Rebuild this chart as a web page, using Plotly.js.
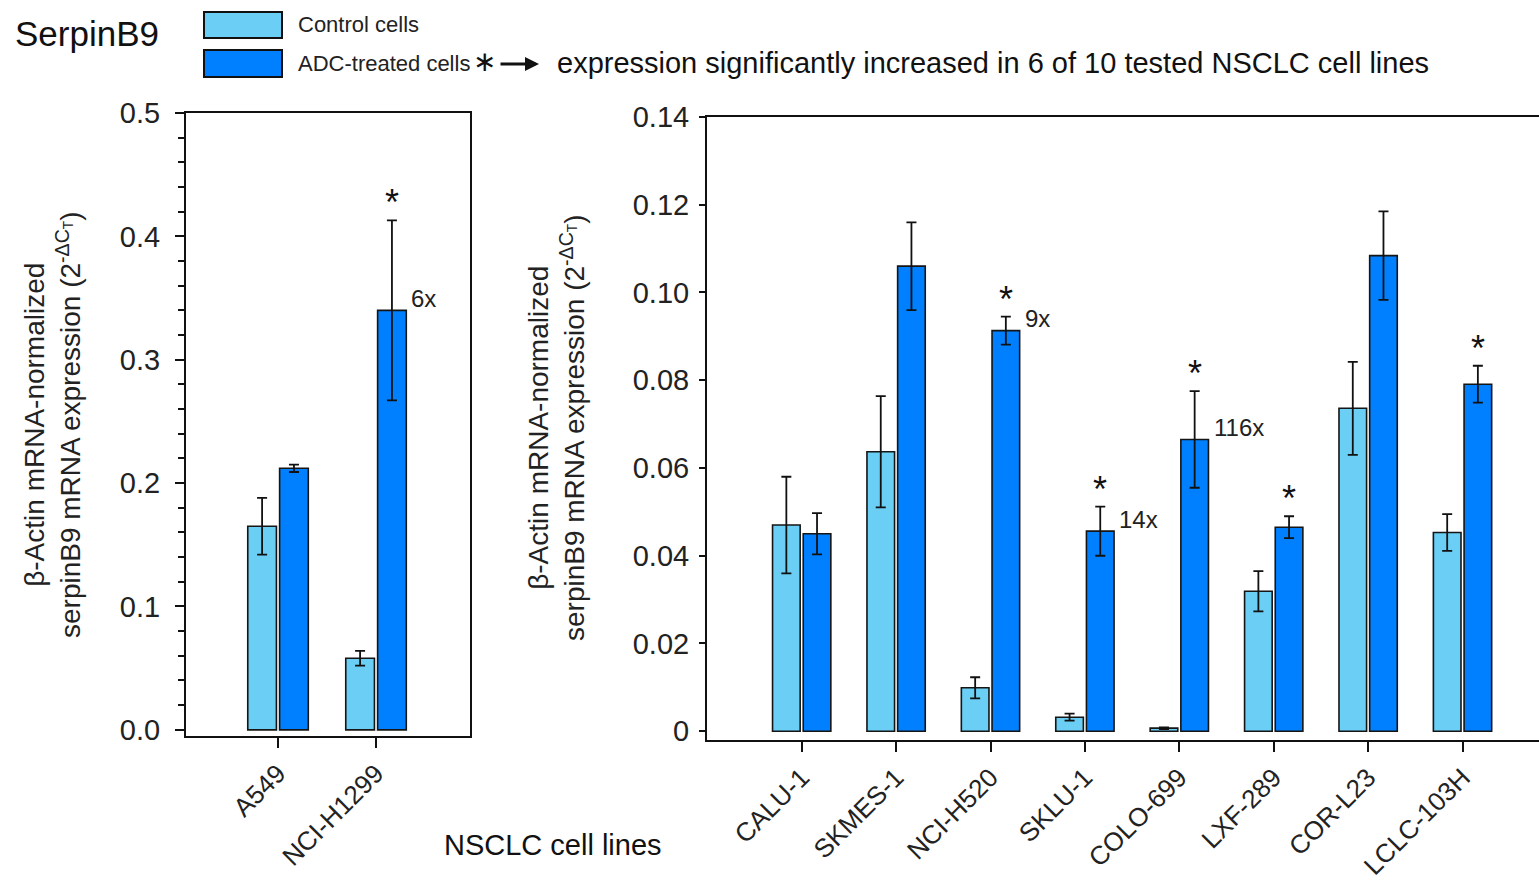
<!DOCTYPE html>
<html><head><meta charset="utf-8">
<script src="https://cdn.plot.ly/plotly-3.0.1.min.js"></script>
<style>html,body{margin:0;padding:0;background:#fff;}#chart{width:1539px;height:883px;}</style>
</head><body><div id="chart"></div>
<script>
// ---- data ----
const leftCats = ['A549', 'NCI-H1299'];
const leftControl = [0.165, 0.058];
const leftControlErr = [0.023, 0.006];
const leftADC = [0.212, 0.340];
const leftADCErr = [0.003, 0.073];
const leftSig = [false, true];
const leftFold = ['', '6x'];

const rightCats = ['CALU-1', 'SKMES-1', 'NCI-H520', 'SKLU-1', 'COLO-699', 'LXF-289', 'COR-L23', 'LCLC-103H'];
const rightControl = [0.047, 0.0637, 0.0099, 0.0032, 0.0007, 0.0319, 0.0736, 0.0453];
const rightControlErr = [0.011, 0.0127, 0.0024, 0.0008, 0.0002, 0.0046, 0.0106, 0.0042];
const rightADC = [0.045, 0.106, 0.0913, 0.0456, 0.0665, 0.0465, 0.1084, 0.0791];
const rightADCErr = [0.0047, 0.010, 0.0032, 0.0056, 0.011, 0.0025, 0.0101, 0.0042];
const rightSig = [false, false, true, true, true, true, false, true];
const rightFold = ['', '', '9x', '14x', '116x', '', '', ''];

const leftTicks = [0, 0.1, 0.2, 0.3, 0.4, 0.5];
const leftTickText = ['0.0', '0.1', '0.2', '0.3', '0.4', '0.5'];
const rightTicks = [0, 0.02, 0.04, 0.06, 0.08, 0.10, 0.12, 0.14];
const rightTickText = ['0', '0.02', '0.04', '0.06', '0.08', '0.10', '0.12', '0.14'];

// ---- style ----
const FONT = 'Liberation Sans, Arial, Helvetica, sans-serif';
const LIGHT = '#6ACEF5';
const DARK = '#0080FF';
const barLine = {color: '#151515', width: 1.6};
const errStyle = {type: 'data', visible: true, color: '#111', thickness: 1.8, width: 5};

function barTrace(cats, vals, errs, color, name, xa, ya) {
  return {type: 'bar', x: cats, y: vals, name: name, xaxis: xa, yaxis: ya,
    marker: {color: color, line: barLine},
    error_y: Object.assign({array: errs}, errStyle),
    showlegend: false, hoverinfo: 'x+y'};
}

const data = [
  barTrace(leftCats, leftControl, leftControlErr, LIGHT, 'Control cells', 'x', 'y'),
  barTrace(leftCats, leftADC, leftADCErr, DARK, 'ADC-treated cells', 'x', 'y'),
  barTrace(rightCats, rightControl, rightControlErr, LIGHT, 'Control cells', 'x2', 'y2'),
  barTrace(rightCats, rightADC, rightADCErr, DARK, 'ADC-treated cells', 'x2', 'y2')
];

const annotations = [];
const ADC_CENTER = 0.1625, ADC_RIGHT = 0.31;
function addMarks(sig, fold, vals, errs, xr, yr) {
  for (let i = 0; i < vals.length; i++) {
    if (sig[i]) {
      annotations.push({xref: xr, yref: yr, x: i + ADC_CENTER, y: vals[i] + errs[i],
        text: '*', showarrow: false, yanchor: 'bottom', xanchor: 'center', yshift: -5,
        font: {family: FONT, size: 36, color: '#111'}});
    }
    if (fold[i]) {
      annotations.push({xref: xr, yref: yr, x: i + ADC_RIGHT, y: vals[i],
        text: fold[i], showarrow: false, yanchor: 'middle', xanchor: 'left', xshift: 3, yshift: 12,
        font: {family: FONT, size: 24, color: '#222'}});
    }
  }
}
addMarks(leftSig, leftFold, leftADC, leftADCErr, 'x', 'y');
addMarks(rightSig, rightFold, rightADC, rightADCErr, 'x2', 'y2');

const W = 1539, H = 883;
const px = v => v / W, py = v => 1 - v / H;

const yTitle = 'β-Actin mRNA-normalized<br>serpinB9 mRNA expression (2<sup>-ΔC<sub>T</sub></sup>)';
annotations.push(
  {xref: 'paper', yref: 'paper', x: px(13), y: py(33), xanchor: 'left', yanchor: 'middle',
   text: 'SerpinB9', showarrow: false, font: {family: FONT, size: 35, color: '#111'}},
  {xref: 'paper', yref: 'paper', x: px(296), y: py(25), xanchor: 'left', yanchor: 'middle',
   text: 'Control cells', showarrow: false, font: {family: FONT, size: 22, color: '#222'}},
  {xref: 'paper', yref: 'paper', x: px(296), y: py(63), xanchor: 'left', yanchor: 'middle',
   text: 'ADC-treated cells', showarrow: false, font: {family: FONT, size: 22, color: '#222'}},
  {xref: 'paper', yref: 'paper', x: px(484), y: py(61), xanchor: 'center', yanchor: 'middle',
   text: '∗', showarrow: false, font: {family: FONT, size: 28, color: '#111'}},
  {xref: 'paper', yref: 'paper', x: px(539), y: py(64), ax: -40, ay: 0, text: '',
   showarrow: true, arrowhead: 2, arrowsize: 1, arrowwidth: 2.8, arrowcolor: '#111'},
  {xref: 'paper', yref: 'paper', x: px(555), y: py(63), xanchor: 'left', yanchor: 'middle',
   text: 'expression significantly increased in 6 of 10 tested NSCLC cell lines', showarrow: false,
   font: {family: FONT, size: 29, color: '#111'}},
  {xref: 'paper', yref: 'paper', x: px(52), y: py(425), xanchor: 'center', yanchor: 'middle',
   text: yTitle, textangle: -90, showarrow: false, font: {family: FONT, size: 28, color: '#222'}},
  {xref: 'paper', yref: 'paper', x: px(556), y: py(428), xanchor: 'center', yanchor: 'middle',
   text: yTitle, textangle: -90, showarrow: false, font: {family: FONT, size: 28, color: '#222'}},
  {xref: 'paper', yref: 'paper', x: px(553), y: py(845), xanchor: 'center', yanchor: 'middle',
   text: 'NSCLC cell lines', showarrow: false, font: {family: FONT, size: 29, color: '#111'}}
);

const shapes = [
  {type: 'rect', xref: 'paper', yref: 'paper', x0: px(204), x1: px(282), y0: py(38), y1: py(12),
   fillcolor: LIGHT, line: {color: '#111', width: 2}},
  {type: 'rect', xref: 'paper', yref: 'paper', x0: px(204), x1: px(282), y0: py(77), y1: py(50),
   fillcolor: DARK, line: {color: '#111', width: 2}}
];

const axisCommon = {showline: true, linecolor: '#111', linewidth: 2, showgrid: false, zeroline: false,
  ticks: 'outside', tickcolor: '#111', tickwidth: 2, fixedrange: true};

const layout = {
  width: W, height: H,
  margin: {l: 0, r: 0, t: 0, b: 0},
  paper_bgcolor: '#fff', plot_bgcolor: '#fff',
  barmode: 'group', bargap: 0.35, bargroupgap: 0.1,
  showlegend: false,
  font: {family: FONT, color: '#222'},
  xaxis: Object.assign({}, axisCommon, {domain: [px(186), px(470)], range: [-0.939, 1.959],
    type: 'category', mirror: true, ticklen: 10, tickangle: -45,
    tickfont: {family: FONT, size: 26, color: '#222'}, anchor: 'y'}),
  yaxis: Object.assign({}, axisCommon, {domain: [1 - 736 / H, 1 - 113 / H], range: [-0.005, 0.5],
    mirror: true, ticklen: 9, tickvals: leftTicks, ticktext: leftTickText, ticklabelstandoff: 9,
    minor: {dtick: 0.02, tick0: 0, ticks: 'outside', ticklen: 6, tickcolor: '#111', tickwidth: 2},
    tickfont: {family: FONT, size: 29, color: '#222'}, anchor: 'x'}),
  xaxis2: Object.assign({}, axisCommon, {domain: [px(707), 1], range: [-1.003, 7.81],
    type: 'category', mirror: true, ticklen: 10, tickangle: -45,
    tickfont: {family: FONT, size: 26, color: '#222'}, anchor: 'y2'}),
  yaxis2: Object.assign({}, axisCommon, {domain: [1 - 740 / H, 1 - 117 / H], range: [-0.002, 0.14],
    mirror: false, ticklen: 6, tickvals: rightTicks, ticktext: rightTickText, ticklabelstandoff: 4,
    tickfont: {family: FONT, size: 29, color: '#222'}, anchor: 'x2'}),
  annotations: annotations,
  shapes: shapes
};

Plotly.newPlot('chart', data, layout, {displayModeBar: false, staticPlot: true});
</script>
</body></html>
